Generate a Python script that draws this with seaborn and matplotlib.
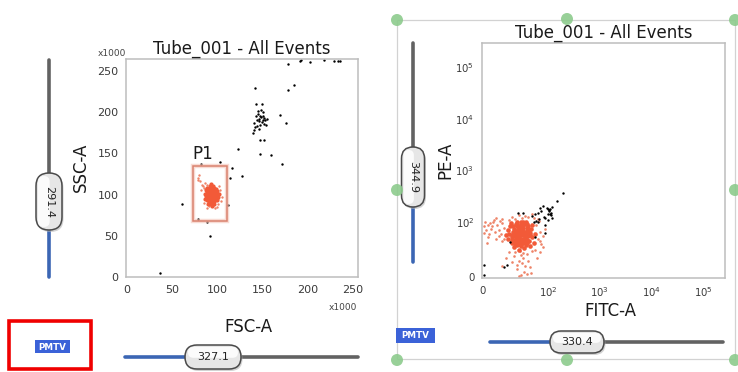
import matplotlib
matplotlib.use("Agg")
import matplotlib.pyplot as plt
import matplotlib.ticker as mticker
from matplotlib.patches import Rectangle, FancyBboxPatch, Circle
import seaborn as sns

# ---- left plot: FSC-A vs SSC-A (units x1000) ----
fsc_p1_core = [93, 94, 92, 95, 91, 96, 90, 94, 92, 97, 89, 93, 95, 91, 96, 92, 98, 90, 94, 97,
               88, 93, 95, 91, 99, 89, 96, 92, 98, 87, 94, 90, 100, 93, 97, 88, 95, 91, 99, 86,
               96, 93, 94, 92, 95, 91, 93, 96, 90, 94, 92, 97, 89, 95, 93, 98, 91, 94, 96, 92,
               100, 88, 95, 90, 97, 93, 99, 87, 101, 92, 94, 98, 89, 96, 102, 90, 95, 86, 100, 93]
ssc_p1_core = [98, 99, 97, 100, 96, 101, 99, 95, 101, 97, 97, 103, 94, 100, 98, 93, 100, 102, 104, 95,
               100, 92, 106, 104, 98, 94, 92, 107, 103, 98, 90, 106, 96, 109, 105, 103, 89, 91, 101, 101,
               108, 95, 101, 99, 97, 98, 100, 96, 95, 97, 104, 102, 100, 103, 105, 96, 102, 92, 104, 95,
               99, 96, 91, 104, 93, 88, 104, 105, 97, 110, 86, 107, 108, 88, 101, 89, 111, 95, 93, 113]
fsc_p1_spray = [85, 83, 81, 79, 80, 78, 84, 86, 82, 88, 104, 103, 99, 97, 91, 102, 105, 85, 88, 101]
ssc_p1_spray = [108, 112, 116, 120, 124, 118, 110, 114, 106, 112, 92, 105, 85, 84, 86, 110, 97, 90, 84, 88]

fsc_other = [36, 61, 92, 89, 78, 82, 103, 112, 116, 114, 123, 127, 142, 143, 149, 147, 151, 147, 159, 169,
             171, 176, 178, 185, 178, 191, 202, 193, 218, 229, 233, 236,
             143, 145, 147, 146, 148, 150, 152, 144, 149, 151, 147, 142, 140, 139, 146, 153, 155, 150,
             148, 145, 141, 154, 144, 150, 146]
ssc_other = [4.5, 89, 50, 67, 70, 137, 140, 87, 132, 120, 155, 123, 230, 210, 210, 166, 166, 149, 148, 197,
             137, 187, 227, 233, 258, 262, 261, 263, 263, 262, 262, 262,
             195, 198, 196, 192, 194, 191, 193, 190, 188, 186, 185, 182, 178, 175, 180, 190, 192, 200,
             203, 201, 187, 185, 183, 195, 189]

gate_p1 = [73, 111, 68, 135]  # x0, x1, y0, y1

# ---- right plot: FITC-A vs PE-A ----
fitc_core = [55, 60, 50, 65, 45, 58, 52, 68, 62, 48, 72, 40, 56, 66, 44, 75, 53, 60, 70, 38,
             47, 63, 78, 57, 51, 67, 42, 74, 59, 49, 64, 54, 69, 46, 61, 71, 39, 58, 76, 43,
             66, 52, 80, 36, 73, 55, 62, 48, 57, 68,
             54, 59, 63, 50, 46, 67, 71, 57, 61, 53, 49, 65, 44, 58, 62, 56, 70, 52, 47, 60,
             64, 55, 68, 51, 59, 73, 45, 66, 57, 63, 53, 48, 61, 69, 56, 50, 62, 58, 54, 66]
pe_core = [75, 70, 80, 78, 72, 85, 65, 68, 90, 88, 80, 78, 60, 58, 62, 72, 95, 98, 92, 85,
           55, 52, 62, 78, 73, 84, 92, 88, 64, 68, 74, 88, 75, 82, 81, 66, 70, 56, 95, 98,
           100, 102, 78, 76, 56, 50, 62, 76, 92, 96,
           82, 78, 66, 60, 92, 90, 86, 70, 76, 58, 84, 64, 68, 96, 84, 66, 80, 92, 64, 88,
           96, 72, 62, 96, 60, 76, 76, 70, 82, 70, 78, 80, 94, 84, 90, 74, 100, 100, 70, 82]
fitc_scatter = [2, 5, 8, 12, 15, 18, 22, 25, 28, 30, 10, 20, 3, 7, 14, 26, 32, 1, 17, 24, 33, 11, 29, 6,
                50, 58, 62, 55, 68, 48, 60, 65, 53, 70, 57, 45, 63, 72, 52, 67, 59, 74, 56, 61, 40, 35, 30, 75,
                85, 88, 90, 82, 92, 86, 95, 84, 78, 70, 60, 50, 65, 40, 30, 20, 45, 55, 75, 88, 93, 80, 87, 83]
pe_scatter = [92, 85, 95, 88, 100, 82, 94, 86, 78, 98, 78, 70, 100, 72, 92, 104, 90, 80, 108, 75, 70, 98, 66, 62,
              45, 40, 35, 30, 42, 38, 25, 20, 15, 30, 48, 28, 10, 18, 22, 5, 3, 8, 2, 44, 45, 35, 20, 48,
              70, 82, 60, 95, 74, 105, 88, 115, 120, 125, 118, 112, 130, 110, 115, 118, 125, 135, 140, 65, 55, 50, 45, 35]
fitc_other = [75, 80, 85, 90, 95, 100, 105, 110, 88, 92, 98, 104, 82, 86, 94, 108, 115, 120, 78, 96, 102, 112,
              150, 192, 100, 41, 54, 62, 33, 37, 1, 1, 95, 80, 85, 118]
pe_other = [130, 140, 150, 160, 120, 110, 170, 180, 190, 200, 185, 160, 105, 115, 125, 140, 150, 120, 100, 95,
            175, 135, 258, 369, 145, 64, 149, 149, 18, 22, 22, 4, 80, 73, 100, 195]

log_ticks = [0, 1e2, 1e3, 1e4, 1e5]
log_labels = ["0", "$10^2$", "$10^3$", "$10^4$", "$10^5$"]

slider_values = ["291.4", "327.1", "344.9", "330.4"]

W, H = 738, 372
GRAY_TRACK = "#626262"
BLUE_TRACK = "#3b66b4"
RED = "#f25a38"
RED_LIGHT = "#ee8468"


def px_axes(fig, left, top, right, bottom):
    return fig.add_axes([left / W, 1 - bottom / H, (right - left) / W, (bottom - top) / H])


def style_axes(ax, labelsize=8):
    for sp in ax.spines.values():
        sp.set_color("#bdbdbd")
        sp.set_linewidth(1.1)
    ax.tick_params(which="both", direction="out", colors="#a0a0a0", labelcolor="#3a3a3a",
                   labelsize=labelsize, pad=1.5)
    ax.tick_params(which="major", length=4, width=0.9)
    ax.tick_params(which="minor", length=2.2, width=0.7)


def draw_knob(ui, x, y, w, h, text, rot):
    r = min(w, h) / 2
    ui.add_patch(FancyBboxPatch((x + 1.5, y + 2), w, h, boxstyle=f"round,pad=0,rounding_size={r}",
                                fc="#b5b5b5", ec="none", alpha=0.6, zorder=3))
    ui.add_patch(FancyBboxPatch((x, y), w, h, boxstyle=f"round,pad=0,rounding_size={r}",
                                fc="#e6e6e6", ec="#4a4a4a", lw=1.1, zorder=4))
    # soft highlight on the upper/left half
    if rot == 0:
        hx, hy, hw, hh = x + 3, y + 2, w - 6, h * 0.45
    else:
        hx, hy, hw, hh = x + 2, y + 3, w * 0.45, h - 6
    ui.add_patch(FancyBboxPatch((hx, hy), hw, hh, boxstyle=f"round,pad=0,rounding_size={min(hw, hh) / 2}",
                                fc="white", ec="none", alpha=0.85, zorder=4))
    ui.text(x + w / 2, y + h / 2, text, rotation=rot, ha="center", va="center",
            fontsize=8, color="#222222", zorder=5)


def vslider(ui, x, top, bottom, k0, k1, thick, text):
    ui.plot([x, x], [top, k0], color=GRAY_TRACK, lw=2.6, solid_capstyle="round", zorder=2)
    ui.plot([x, x], [k1, bottom], color=BLUE_TRACK, lw=2.6, solid_capstyle="round", zorder=2)
    draw_knob(ui, x - thick / 2, k0, thick, k1 - k0, text, 270)


def hslider(ui, y, left, right, k0, k1, thick, text):
    ui.plot([left, k0], [y, y], color=BLUE_TRACK, lw=2.6, solid_capstyle="round", zorder=2)
    ui.plot([k1, right], [y, y], color=GRAY_TRACK, lw=2.6, solid_capstyle="round", zorder=2)
    draw_knob(ui, k0, y - thick / 2, k1 - k0, thick, text, 0)


def pmtv(ui, x0, y0, x1, y1):
    ui.add_patch(Rectangle((x0, y0), x1 - x0, y1 - y0, fc="#3b62d8", ec="none", zorder=3))
    ui.text((x0 + x1) / 2, (y0 + y1) / 2 + 0.5, "PMTV", ha="center", va="center",
            fontsize=6.3, color="white", fontweight="bold", zorder=4)


def main():
    sns.set_style("white")
    plt.rcParams["font.family"] = ["DejaVu Sans"]

    fig = plt.figure(figsize=(W / 100, H / 100), dpi=100)
    fig.patch.set_facecolor("white")

    ui = fig.add_axes([0, 0, 1, 1])
    ui.set_xlim(0, W)
    ui.set_ylim(H, 0)
    ui.axis("off")
    ui.set_zorder(0)

    # ---- left scatter ----
    ax1 = px_axes(fig, 126, 59, 358, 277)
    ax1.set_zorder(1)
    sns.scatterplot(x=fsc_other, y=ssc_other, ax=ax1, color="black", s=3, linewidth=0, legend=False)
    sns.scatterplot(x=fsc_p1_spray, y=ssc_p1_spray, ax=ax1, color=RED_LIGHT, s=3, linewidth=0, legend=False)
    sns.scatterplot(x=fsc_p1_core, y=ssc_p1_core, ax=ax1, color=RED, s=9, linewidth=0, legend=False)
    gx0, gx1, gy0, gy1 = gate_p1
    ax1.add_patch(Rectangle((gx0, gy0), gx1 - gx0, gy1 - gy0, fill=False, ec="#f4c4b8", lw=3.2, alpha=0.6))
    ax1.add_patch(Rectangle((gx0, gy0), gx1 - gx0, gy1 - gy0, fill=False, ec="#d9826e", lw=1.1))
    ax1.text(84, 149, "P1", fontsize=12, ha="center", va="center", color="#1a1a1a")
    ax1.set_xlim(-1.1, 255.5)
    ax1.set_ylim(0, 264.6)
    ax1.set_xticks([0, 50, 100, 150, 200, 250])
    ax1.set_yticks([0, 50, 100, 150, 200, 250])
    ax1.xaxis.set_minor_locator(mticker.MultipleLocator(10))
    ax1.yaxis.set_minor_locator(mticker.MultipleLocator(10))
    style_axes(ax1)
    ax1.set_title("Tube_001 - All Events", fontsize=12, pad=4, color="#1a1a1a")
    ax1.set_xlabel("FSC-A", fontsize=12, color="#1a1a1a")
    ax1.set_ylabel("SSC-A", fontsize=12, color="#1a1a1a")
    ax1.xaxis.set_label_coords(0.526, -0.19)
    ax1.yaxis.set_label_coords(-0.155, 0.505)
    ui.text(112, 54, "x1000", fontsize=6.5, ha="center", va="center", color="#444444")
    ui.text(343, 308, "x1000", fontsize=6.5, ha="center", va="center", color="#444444")

    # ---- right scatter ----
    ax2 = px_axes(fig, 482, 43, 725, 278)
    ax2.set_zorder(1)
    sns.scatterplot(x=fitc_scatter, y=pe_scatter, ax=ax2, color=RED_LIGHT, s=3.5, linewidth=0, legend=False)
    sns.scatterplot(x=fitc_core, y=pe_core, ax=ax2, color=RED, s=11, linewidth=0, legend=False)
    sns.scatterplot(x=fitc_other, y=pe_other, ax=ax2, color="black", s=3, linewidth=0, legend=False)
    ax2.set_xscale("symlog", linthresh=100, linscale=1.131, base=10)
    ax2.set_yscale("symlog", linthresh=100, linscale=0.957, base=10)
    ax2.set_xlim(-1.5, 2.65e5)
    ax2.set_ylim(-1.8, 2.9e5)
    minor = [10, 20, 30, 40, 50, 60, 70, 80, 90]
    for d in [1e2, 1e3, 1e4, 1e5]:
        minor += [k * d for k in range(2, 10) if k * d < 2.6e5]
    ax2.set_xticks(log_ticks, log_labels)
    ax2.set_yticks(log_ticks, log_labels)
    ax2.xaxis.set_minor_locator(mticker.FixedLocator(minor))
    ax2.yaxis.set_minor_locator(mticker.FixedLocator(minor))
    style_axes(ax2, labelsize=7.3)
    ax2.set_title("Tube_001 - All Events", fontsize=12, pad=3.6, color="#1a1a1a")
    ax2.set_xlabel("FITC-A", fontsize=12, color="#1a1a1a")
    ax2.set_ylabel("PE-A", fontsize=12, color="#1a1a1a")
    ax2.xaxis.set_label_coords(0.527, -0.102)
    ax2.yaxis.set_label_coords(-0.115, 0.502)

    # ---- UI chrome ----
    vslider(ui, 49, 60, 277, 173, 230, 26, slider_values[0])
    hslider(ui, 357, 125, 358, 185, 241, 24, slider_values[1])
    vslider(ui, 413, 43, 262, 147, 207, 23, slider_values[2])
    hslider(ui, 342, 490, 723, 550, 604, 22, slider_values[3])

    pmtv(ui, 35, 340, 70, 353)
    pmtv(ui, 396, 328, 435, 343)
    ui.add_patch(Rectangle((9, 321), 82, 48, fill=False, ec="#f00000", lw=2.6, zorder=5))

    ui.add_patch(Rectangle((397, 20), 338, 339, fill=False, ec="#d2d2d2", lw=0.9, zorder=1))
    for cx, cy in [(397, 20), (567, 19), (735, 20), (397, 190), (735, 190),
                   (397, 360), (567, 360), (735, 360)]:
        ui.add_patch(Circle((cx, cy), 6, fc="#8dcb8d", ec="none", alpha=0.9, zorder=6))

    fig.savefig("out.png", dpi=100, facecolor="white")


if __name__ == "__main__":
    main()
